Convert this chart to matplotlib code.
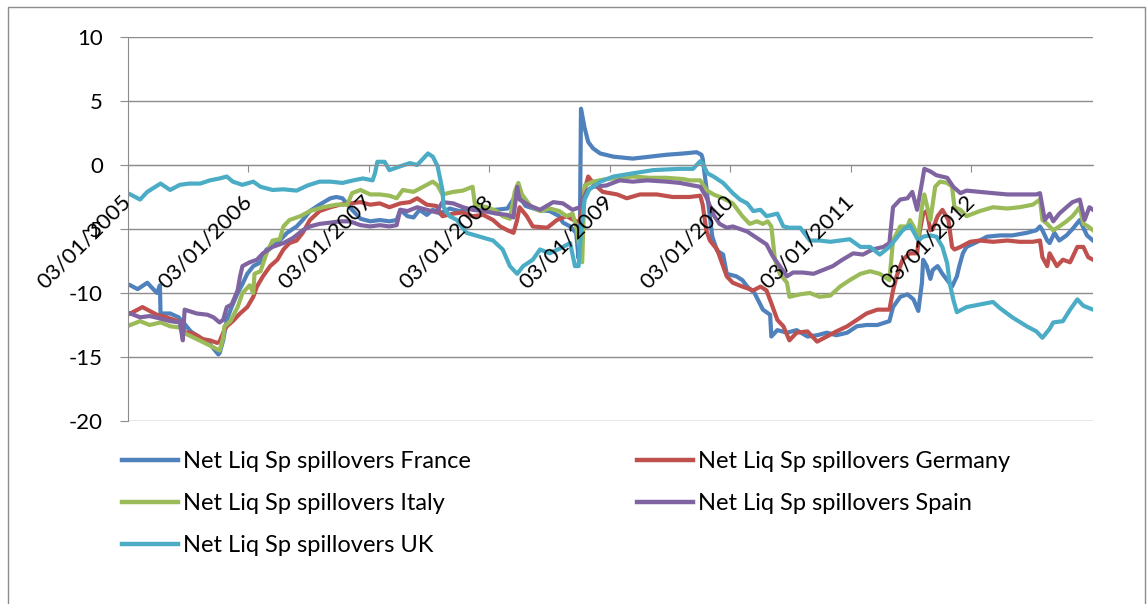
import matplotlib
matplotlib.use('Agg')
import matplotlib.pyplot as plt
from matplotlib.patches import Rectangle

# time in years after 03/01/2005
tick_labels = ['03/01/2005', '03/01/2006', '03/01/2007', '03/01/2008',
               '03/01/2009', '03/01/2010', '03/01/2011', '03/01/2012']

france_t = [0.02, 0.08, 0.16, 0.20, 0.24, 0.265, 0.27, 0.35, 0.42, 0.46, 0.52, 0.60, 0.68, 0.75, 0.76,
            0.79, 0.82, 0.86, 0.91, 0.95, 0.99, 1.04, 1.10, 1.15, 1.24, 1.32, 1.40, 1.45, 1.51, 1.59,
            1.68, 1.73, 1.78, 1.84, 1.93, 2.01, 2.09, 2.17, 2.23, 2.26, 2.32, 2.37, 2.42, 2.48, 2.53,
            2.59, 2.67, 2.75, 2.85, 2.95, 3.05, 3.15, 3.23, 3.30, 3.40, 3.50, 3.58, 3.61, 3.67, 3.72,
            3.74, 3.75, 3.76, 3.79, 3.82, 3.86, 3.92, 4.03, 4.19, 4.33, 4.47, 4.61, 4.72, 4.76, 4.77,
            4.80, 4.83, 4.85, 4.89, 4.94, 4.97, 5.05, 5.10, 5.14, 5.20, 5.27, 5.33, 5.34, 5.39, 5.47,
            5.55, 5.64, 5.72, 5.80, 5.88, 5.97, 6.05, 6.13, 6.22, 6.32, 6.35, 6.41, 6.47, 6.52, 6.56,
            6.59, 6.60, 6.63, 6.66, 6.68, 6.72, 6.76, 6.80, 6.84, 6.88, 6.90, 6.93, 6.96, 7.05, 7.13,
            7.24, 7.34, 7.46, 7.54, 7.57, 7.59, 7.63, 7.65, 7.69, 7.73, 7.79, 7.84, 7.90, 7.96, 8.01]
france_v = [-9.4, -9.7, -9.2, -9.6, -10.0, -9.4, -11.6, -11.6, -11.9, -12.3, -13.0, -13.5, -14.0, -14.8, -14.7,
            -13.7, -12.1, -11.1, -10.0, -9.3, -8.5, -7.9, -7.6, -6.6, -6.1, -5.3, -4.8, -4.3, -3.6, -3.1,
            -2.6, -2.5, -2.6, -3.3, -4.2, -4.4, -4.3, -4.4, -4.3, -3.5, -4.0, -4.1, -3.5, -3.9, -3.5,
            -3.8, -3.4, -3.6, -3.4, -3.6, -3.5, -3.4, -2.2, -3.2, -3.5, -3.6, -4.0, -4.5, -4.8, -5.3,
            -7.3, -6.0, 4.4, 2.9, 1.8, 1.3, 0.9, 0.65, 0.5, 0.65, 0.8, 0.9, 1.0, 0.8, 0.5,
            -1.7, -4.0, -5.6, -6.7, -7.0, -8.5, -8.7, -9.0, -9.5, -10.0, -11.3, -11.7, -13.4, -12.9, -13.1,
            -12.9, -13.4, -13.3, -13.1, -13.3, -13.1, -12.6, -12.5, -12.5, -12.2, -11.1, -10.3, -10.1, -10.5, -11.4,
            -9.2, -7.4, -7.9, -8.9, -8.2, -7.9, -8.5, -9.0, -9.5, -8.7, -7.9, -6.9, -6.4, -6.0, -5.6,
            -5.5, -5.5, -5.3, -5.1, -4.8, -5.1, -5.9, -6.1, -5.3, -5.9, -5.5, -5.0, -4.3, -5.5, -5.9]

germany_t = [0.02, 0.08, 0.12, 0.18, 0.24, 0.32, 0.41, 0.45, 0.47, 0.52, 0.57, 0.62, 0.68, 0.74, 0.76,
             0.79, 0.82, 0.87, 0.93, 0.99, 1.04, 1.07, 1.12, 1.18, 1.24, 1.29, 1.34, 1.40, 1.45, 1.51,
             1.59, 1.68, 1.76, 1.84, 1.93, 2.01, 2.09, 2.17, 2.26, 2.34, 2.40, 2.48, 2.56, 2.61, 2.70,
             2.78, 2.86, 2.95, 3.03, 3.09, 3.15, 3.20, 3.23, 3.25, 3.31, 3.36, 3.48, 3.56, 3.64, 3.72,
             3.75, 3.78, 3.82, 3.86, 3.94, 4.06, 4.14, 4.25, 4.39, 4.52, 4.66, 4.75, 4.77, 4.80, 4.83,
             4.89, 4.94, 4.97, 5.02, 5.10, 5.19, 5.25, 5.30, 5.34, 5.39, 5.44, 5.49, 5.55, 5.64, 5.72,
             5.80, 5.88, 5.97, 6.05, 6.13, 6.22, 6.32, 6.35, 6.38, 6.41, 6.43, 6.49, 6.55, 6.57, 6.60,
             6.63, 6.66, 6.68, 6.72, 6.76, 6.81, 6.84, 6.86, 6.91, 6.99, 7.07, 7.18, 7.30, 7.40, 7.51,
             7.57, 7.59, 7.63, 7.65, 7.71, 7.76, 7.82, 7.88, 7.93, 7.97, 8.01]
germany_v = [-11.6, -11.3, -11.1, -11.4, -11.7, -11.9, -12.2, -12.3, -13.1, -13.1, -13.3, -13.6, -13.7, -13.9, -13.8,
             -13.1, -12.6, -12.2, -11.6, -11.1, -10.3, -9.5, -8.7, -7.9, -7.4, -6.6, -6.1, -5.9, -5.3, -4.3,
             -3.6, -3.3, -3.1, -3.0, -2.9, -3.1, -3.0, -3.3, -3.0, -2.9, -2.6, -3.1, -3.2, -4.0, -3.8,
             -3.7, -4.0, -3.9, -4.3, -4.8, -5.1, -5.3, -4.3, -3.3, -4.0, -4.8, -4.9, -4.3, -4.0, -4.4,
             -4.4, -2.3, -0.9, -1.4, -2.1, -2.3, -2.6, -2.3, -2.3, -2.5, -2.5, -2.4, -3.1, -5.1, -5.9,
             -6.6, -7.9, -8.7, -9.2, -9.5, -9.8, -9.5, -9.8, -10.8, -12.1, -12.6, -13.7, -13.1, -13.0, -13.8,
             -13.4, -13.0, -12.6, -12.1, -11.6, -11.3, -11.3, -9.8, -8.7, -7.9, -7.4, -6.9, -6.9, -5.3, -3.8,
             -3.6, -5.1, -5.0, -4.0, -3.5, -4.3, -6.4, -6.6, -6.4, -6.0, -5.9, -6.0, -5.9, -6.0, -6.0,
             -5.9, -7.2, -7.9, -6.9, -7.9, -7.4, -7.6, -6.4, -6.4, -7.2, -7.4]

italy_t = [0.02, 0.10, 0.18, 0.27, 0.35, 0.43, 0.46, 0.57, 0.68, 0.76, 0.79, 0.80, 0.85, 0.91, 0.95,
           1.01, 1.04, 1.05, 1.10, 1.15, 1.20, 1.26, 1.29, 1.34, 1.43, 1.51, 1.62, 1.73, 1.82, 1.86,
           1.93, 2.01, 2.09, 2.17, 2.23, 2.28, 2.37, 2.45, 2.53, 2.57, 2.61, 2.70, 2.78, 2.86, 2.88,
           2.98, 3.06, 3.11, 3.17, 3.21, 3.24, 3.27, 3.34, 3.42, 3.50, 3.58, 3.64, 3.69, 3.72, 3.77,
           3.79, 3.86, 3.97, 4.08, 4.19, 4.33, 4.47, 4.61, 4.66, 4.75, 4.80, 4.86, 4.94, 5.02, 5.10,
           5.16, 5.22, 5.27, 5.31, 5.34, 5.37, 5.41, 5.47, 5.49, 5.58, 5.66, 5.74, 5.83, 5.91, 5.99,
           6.08, 6.16, 6.24, 6.32, 6.35, 6.41, 6.47, 6.49, 6.52, 6.56, 6.59, 6.61, 6.66, 6.70, 6.74,
           6.80, 6.84, 6.86, 6.91, 6.96, 7.07, 7.18, 7.30, 7.40, 7.51, 7.57, 7.59, 7.63, 7.68, 7.73,
           7.79, 7.84, 7.90, 7.93, 7.97, 8.01]
italy_v = [-12.5, -12.2, -12.5, -12.3, -12.6, -12.7, -13.1, -13.6, -14.1, -14.5, -13.5, -12.6, -12.2, -11.1, -10.0,
           -9.4, -10.0, -8.5, -8.3, -6.9, -5.9, -5.8, -4.8, -4.3, -4.0, -3.6, -3.3, -3.1, -3.1, -2.2,
           -1.95, -2.3, -2.3, -2.4, -2.6, -1.95, -2.1, -1.7, -1.3, -1.6, -2.3, -2.1, -2.0, -1.7, -3.1,
           -3.3, -3.6, -4.0, -4.2, -2.1, -1.4, -2.3, -3.2, -3.6, -3.4, -3.6, -4.0, -3.8, -4.8, -7.6,
           -1.6, -1.3, -1.1, -1.0, -0.9, -1.0, -1.0, -1.1, -1.2, -1.2, -1.95, -2.3, -2.6, -3.0, -4.0,
           -4.6, -4.4, -4.6, -4.4, -4.8, -7.4, -8.5, -9.2, -10.3, -10.1, -10.0, -10.3, -10.2, -9.5, -9.0,
           -8.5, -8.3, -8.5, -9.0, -5.9, -4.8, -4.8, -4.3, -4.8, -5.6, -3.3, -2.3, -4.3, -1.7, -1.3,
           -1.4, -1.7, -3.3, -3.5, -4.0, -3.6, -3.3, -3.4, -3.3, -3.1, -2.7, -4.3, -4.6, -5.1, -4.8,
           -4.4, -4.0, -3.3, -4.6, -4.8, -5.1]

spain_t = [0.02, 0.10, 0.18, 0.27, 0.35, 0.43, 0.455, 0.47, 0.57, 0.66, 0.71, 0.76, 0.79, 0.82, 0.86,
           0.91, 0.93, 0.95, 1.01, 1.07, 1.12, 1.20, 1.29, 1.37, 1.45, 1.51, 1.59, 1.68, 1.76, 1.84,
           1.93, 2.01, 2.09, 2.17, 2.23, 2.26, 2.32, 2.40, 2.48, 2.56, 2.61, 2.70, 2.78, 2.86, 2.95,
           3.06, 3.15, 3.20, 3.23, 3.25, 3.34, 3.42, 3.53, 3.61, 3.69, 3.75, 3.81, 3.86, 3.97, 4.08,
           4.19, 4.31, 4.47, 4.58, 4.69, 4.75, 4.80, 4.86, 4.91, 4.97, 5.02, 5.08, 5.14, 5.22, 5.30,
           5.35, 5.41, 5.47, 5.52, 5.60, 5.69, 5.77, 5.85, 5.93, 6.02, 6.10, 6.18, 6.27, 6.32, 6.35,
           6.41, 6.47, 6.51, 6.55, 6.59, 6.61, 6.66, 6.71, 6.80, 6.85, 6.91, 6.96, 7.07, 7.18, 7.30,
           7.40, 7.54, 7.57, 7.61, 7.65, 7.68, 7.73, 7.79, 7.84, 7.90, 7.94, 7.98, 8.01]
spain_v = [-11.6, -11.9, -11.8, -12.0, -12.2, -12.3, -13.7, -11.3, -11.6, -11.7, -11.9, -12.3, -12.1, -11.1, -10.9,
           -9.8, -8.7, -7.9, -7.6, -7.4, -6.9, -6.4, -6.1, -5.7, -5.1, -4.8, -4.6, -4.5, -4.4, -4.4,
           -4.7, -4.8, -4.7, -4.8, -4.7, -3.5, -3.6, -3.3, -3.5, -3.7, -2.9, -3.0, -3.3, -3.5, -3.6,
           -3.8, -3.9, -4.1, -1.7, -2.7, -3.2, -3.5, -2.9, -3.0, -3.5, -3.3, -2.0, -1.7, -1.6, -1.2,
           -1.3, -1.2, -1.3, -1.4, -1.6, -1.7, -2.5, -3.9, -4.6, -4.9, -4.8, -5.0, -5.2, -5.7, -6.2,
           -7.1, -7.9, -8.7, -8.4, -8.4, -8.5, -8.2, -7.9, -7.4, -6.9, -7.0, -6.6, -6.4, -6.1, -3.3,
           -2.7, -2.6, -2.1, -3.5, -1.4, -0.3, -0.5, -0.8, -1.0, -1.7, -2.2, -2.0, -2.1, -2.2, -2.3,
           -2.3, -2.3, -2.2, -4.3, -3.8, -4.4, -3.8, -3.3, -2.9, -2.7, -4.3, -3.3, -3.5]

uk_t = [0.02, 0.10, 0.16, 0.27, 0.35, 0.43, 0.51, 0.60, 0.68, 0.76, 0.82, 0.87, 0.95, 1.04, 1.10,
        1.20, 1.29, 1.40, 1.49, 1.59, 1.68, 1.78, 1.87, 1.95, 2.03, 2.05, 2.07, 2.13, 2.17, 2.26,
        2.34, 2.40, 2.45, 2.49, 2.53, 2.57, 2.61, 2.62, 2.67, 2.73, 2.81, 2.92, 3.03, 3.11, 3.17,
        3.23, 3.28, 3.36, 3.42, 3.50, 3.59, 3.67, 3.71, 3.74, 3.76, 3.79, 3.83, 3.92, 4.03, 4.19,
        4.36, 4.58, 4.69, 4.75, 4.77, 4.81, 4.86, 4.94, 5.02, 5.08, 5.14, 5.19, 5.25, 5.30, 5.39,
        5.44, 5.49, 5.58, 5.66, 5.74, 5.83, 5.91, 5.99, 6.08, 6.16, 6.24, 6.32, 6.38, 6.43, 6.49,
        6.52, 6.56, 6.60, 6.66, 6.71, 6.76, 6.80, 6.82, 6.85, 6.88, 6.96, 7.07, 7.18, 7.24, 7.34,
        7.46, 7.54, 7.59, 7.65, 7.68, 7.76, 7.82, 7.88, 7.93, 8.01]
uk_v = [-2.3, -2.7, -2.1, -1.45, -1.95, -1.55, -1.45, -1.45, -1.2, -1.05, -0.9, -1.3, -1.55, -1.3, -1.7,
        -1.95, -1.9, -2.0, -1.6, -1.3, -1.3, -1.4, -1.2, -1.05, -1.2, -0.65, 0.25, 0.25, -0.4, -0.1,
        0.15, 0.0, 0.5, 0.9, 0.65, -0.1, -1.95, -3.3, -4.0, -4.3, -5.3, -5.6, -5.9, -6.6, -7.9,
        -8.5, -7.9, -7.4, -6.6, -6.9, -6.5, -6.1, -7.9, -7.9, -5.3, -2.7, -1.9, -1.3, -0.9, -0.65,
        -0.4, -0.3, -0.3, 0.3, 0.1, -0.65, -0.9, -1.4, -2.2, -2.7, -3.0, -3.6, -3.5, -4.0, -3.8,
        -4.8, -4.9, -4.9, -5.9, -5.9, -6.0, -5.9, -5.8, -6.4, -6.4, -7.0, -6.4, -5.7, -5.1, -4.7,
        -5.2, -5.9, -5.6, -5.5, -5.6, -6.4, -7.7, -9.2, -10.5, -11.5, -11.1, -10.9, -10.7, -11.2, -11.9,
        -12.6, -13.0, -13.5, -12.8, -12.3, -12.2, -11.3, -10.5, -11.0, -11.3]

series = [
    ('Net Liq Sp spillovers France', france_t, france_v, '#4F81BD'),
    ('Net Liq Sp spillovers Germany', germany_t, germany_v, '#C0504D'),
    ('Net Liq Sp spillovers Italy', italy_t, italy_v, '#9BBB59'),
    ('Net Liq Sp spillovers Spain', spain_t, spain_v, '#8064A2'),
    ('Net Liq Sp spillovers UK', uk_t, uk_v, '#4BACC6'),
]

plt.rcParams['font.family'] = ['Lato', 'DejaVu Sans']
GRID = '#8c8c8c'

fig = plt.figure(figsize=(11.47, 6.04), dpi=100)
fig.patches.append(Rectangle((8 / 1147, -0.05), 1137 / 1147, 1.05 - 7 / 604,
                             transform=fig.transFigure, fill=False,
                             edgecolor=GRID, lw=1.0))
ax = fig.add_axes([128 / 1147, 1 - 421 / 604, 965 / 1147, 384 / 604])

# spine position first: moving it resets tick label styling
for s in ['top', 'right']:
    ax.spines[s].set_visible(False)
ax.spines['left'].set_color(GRID)
ax.spines['bottom'].set_color(GRID)
ax.spines['bottom'].set_position(('data', 0))
ax.set_axisbelow(False)

yticks = list(range(-20, 11, 5))
for yv in yticks:
    ax.axhline(yv, color=GRID, lw=1.0, zorder=1)

handles = {}
for name, t, v, col in series:
    ln, = ax.plot(t, v, color=col, lw=3.0, solid_joinstyle='round', zorder=2)
    handles[name] = ln

ax.set_xlim(0, 8.01)
ax.set_ylim(-20, 10)
ax.set_yticks(yticks)
ax.set_yticklabels([str(y) for y in yticks])
ax.set_xticks(range(len(tick_labels)))
ax.set_xticklabels(tick_labels)
ax.tick_params(axis='y', length=6, color=GRID, pad=12, labelsize=16)
ax.tick_params(axis='x', length=5, color=GRID, pad=19, labelsize=16)
for lab in ax.get_xticklabels():
    lab.set_rotation(45)
    lab.set_ha('right')
    lab.set_va('center')
    lab.set_rotation_mode('anchor')

names = [s[0] for s in series]
leg_kw = dict(frameon=False, fontsize=17, handlelength=2.37, handletextpad=0.2,
              labelspacing=0.9, borderpad=0, borderaxespad=0, loc='upper left')
left_names = [names[0], names[2], names[4]]
right_names = [names[1], names[3]]
leg1 = fig.legend([handles[n] for n in left_names], left_names,
                  bbox_to_anchor=(122 / 1147, 1 - 451 / 604), **leg_kw)
leg2 = fig.legend([handles[n] for n in right_names], right_names,
                  bbox_to_anchor=(637 / 1147, 1 - 451 / 604), **leg_kw)
for leg in (leg1, leg2):
    for ln in leg.get_lines():
        ln.set_linewidth(3.2)

fig.savefig('out.png', dpi=100)
